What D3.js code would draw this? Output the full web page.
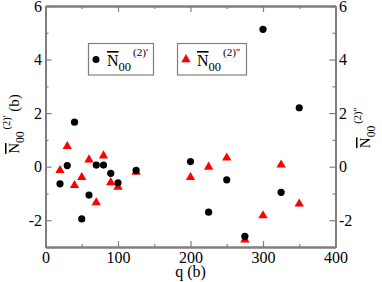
<!DOCTYPE html>
<html>
<head>
<meta charset="utf-8">
<script src="https://cdn.jsdelivr.net/npm/d3@7"></script>
<style>
html,body{margin:0;padding:0;background:#fff;}
svg{display:block;}
svg text{font-family:'Liberation Serif','Times New Roman',Tinos,serif !important;}
</style>
</head>
<body>
<svg id="chart" width="382" height="282"></svg>
<script>
const qPrime = [20, 30, 40, 50, 60, 70, 80, 90, 100, 125, 200, 225, 250, 275, 300, 325, 350];
const nPrime = [-0.64, 0.04, 1.66, -1.95, -1.06, 0.06, 0.06, -0.25, -0.6, -0.14, 0.19, -1.7, -0.49, -2.6, 5.13, -0.96, 2.2];
const qDouble = [20, 30, 40, 50, 60, 70, 80, 90, 100, 125, 200, 225, 250, 275, 300, 325, 350];
const nDouble = [-0.14, 0.76, -0.7, -0.4, 0.26, -1.34, 0.41, -0.59, -0.76, -0.2, -0.4, -0.01, 0.33, -2.73, -1.83, 0.07, -1.39];
const xTicks = [0, 100, 200, 300, 400];
const xMinor = [50, 150, 250, 350];
const yTicks = [-2, 0, 2, 4, 6];
const yMinor = [-3, -1, 1, 3, 5];

const FONT = "'Liberation Serif', 'Times New Roman', Tinos, serif";
const svg = d3.select("#chart").attr("font-family", FONT);
const L = 45.5, R = 335.5, T = 6, B = 247;
const x = d3.scaleLinear().domain([0, 400]).range([L, R]);
const y = d3.scaleLinear().domain([-3, 6]).range([B, T]);
const axisColor = "#7f7f7f";

function drawAxis(axis, transform) {
  const g = svg.append("g").attr("transform", transform).call(axis);
  g.attr("font-family", FONT).attr("font-size", 16);
  g.select(".domain").attr("stroke", axisColor).attr("stroke-width", 2);
  g.selectAll(".tick line").attr("stroke", axisColor).attr("stroke-width", 1.2);
  g.selectAll(".tick text").attr("font-family", FONT).style("font-family", FONT).style("font-size", "16px").attr("fill", "#000")
    .text(function(){ return this.textContent.replace("\u2212","-"); });
  return g;
}
// bottom
drawAxis(d3.axisBottom(x).tickValues(xTicks).tickSize(-6).tickPadding(5).tickSizeOuter(0).tickFormat(d3.format("d")), `translate(0,${B})`);
drawAxis(d3.axisBottom(x).tickValues(xMinor).tickSize(-3).tickSizeOuter(0).tickFormat(""), `translate(0,${B})`);
// top
drawAxis(d3.axisTop(x).tickValues(xTicks).tickSize(-6).tickSizeOuter(0).tickFormat(""), `translate(0,${T})`);
drawAxis(d3.axisTop(x).tickValues(xMinor).tickSize(-3).tickSizeOuter(0).tickFormat(""), `translate(0,${T})`);
// left
drawAxis(d3.axisLeft(y).tickValues(yTicks).tickSize(-6).tickPadding(3.5).tickSizeOuter(0).tickFormat(d3.format("d")), `translate(${L},0)`);
drawAxis(d3.axisLeft(y).tickValues(yMinor).tickSize(-3).tickSizeOuter(0).tickFormat(""), `translate(${L},0)`);
// right
drawAxis(d3.axisRight(y).tickValues(yTicks).tickSize(-6).tickPadding(3.5).tickSizeOuter(0).tickFormat(d3.format("d")), `translate(${R},0)`);
drawAxis(d3.axisRight(y).tickValues(yMinor).tickSize(-3).tickSizeOuter(0).tickFormat(""), `translate(${R},0)`);

// data
const tri = d3.symbol().type(d3.symbolTriangle).size(38);
svg.append("g").selectAll("path").data(qDouble.map((q,i)=>[q,nDouble[i]])).join("path")
  .attr("d", tri).attr("fill", "#ff0000")
  .attr("transform", d => `translate(${x(d[0])},${y(d[1])})`);
svg.append("g").selectAll("circle").data(qPrime.map((q,i)=>[q,nPrime[i]])).join("circle")
  .attr("cx", d => x(d[0])).attr("cy", d => y(d[1])).attr("r", 3.6).attr("fill", "#000");

function nLabel(g, xpos, ypos, sup, extra, size, anchor) {
  const t = g.append("text").attr("x", xpos).attr("y", ypos)
    .attr("font-family", FONT).style("font-family", FONT).style("font-size", size + "px")
    .attr("text-anchor", anchor || "start").attr("fill", "#000");
  t.append("tspan").text("N").style("text-decoration", "overline");
  t.append("tspan").attr("dy", size*0.32).style("font-size", (size*0.78) + "px").text("00");
  t.append("tspan").attr("dy", -size*0.95).style("font-size", (size*0.7) + "px").attr("dx", size*0.12).text(sup);
  if (extra) t.append("tspan").attr("dy", size*0.63).style("font-size", size + "px").text(extra);
  return t;
}

// legend
const lg = svg.append("g");
lg.append("rect").attr("x", 88.5).attr("y", 43.5).attr("width", 65).attr("height", 31.5)
  .attr("fill", "none").attr("stroke", axisColor).attr("stroke-width", 1.2);
lg.append("circle").attr("cx", 96).attr("cy", 59.5).attr("r", 3.5).attr("fill", "#000");
nLabel(lg, 107, 66, "(2)'", null, 16);
lg.append("rect").attr("x", 177.5).attr("y", 43.5).attr("width", 69).attr("height", 31.5)
  .attr("fill", "none").attr("stroke", axisColor).attr("stroke-width", 1.2);
lg.append("path").attr("d", tri).attr("fill", "#ff0000").attr("transform", "translate(186,59.5)");
nLabel(lg, 197, 66, "(2)''", null, 16);

// axis titles
svg.append("text").attr("x", x(200)).attr("y", 277).attr("text-anchor", "middle")
  .attr("font-family", FONT).style("font-family", FONT).style("font-size", "16px").text("q (b)");
const yl = svg.append("g").attr("transform", "translate(19,124) rotate(-90)");
nLabel(yl, 0, 0, "(2)'", " (b)", 15, "middle");
const yr = svg.append("g").attr("transform", "translate(370,128) rotate(-90)");
nLabel(yr, 0, 0, "(2)''", null, 15, "middle");
</script>
</body>
</html>
